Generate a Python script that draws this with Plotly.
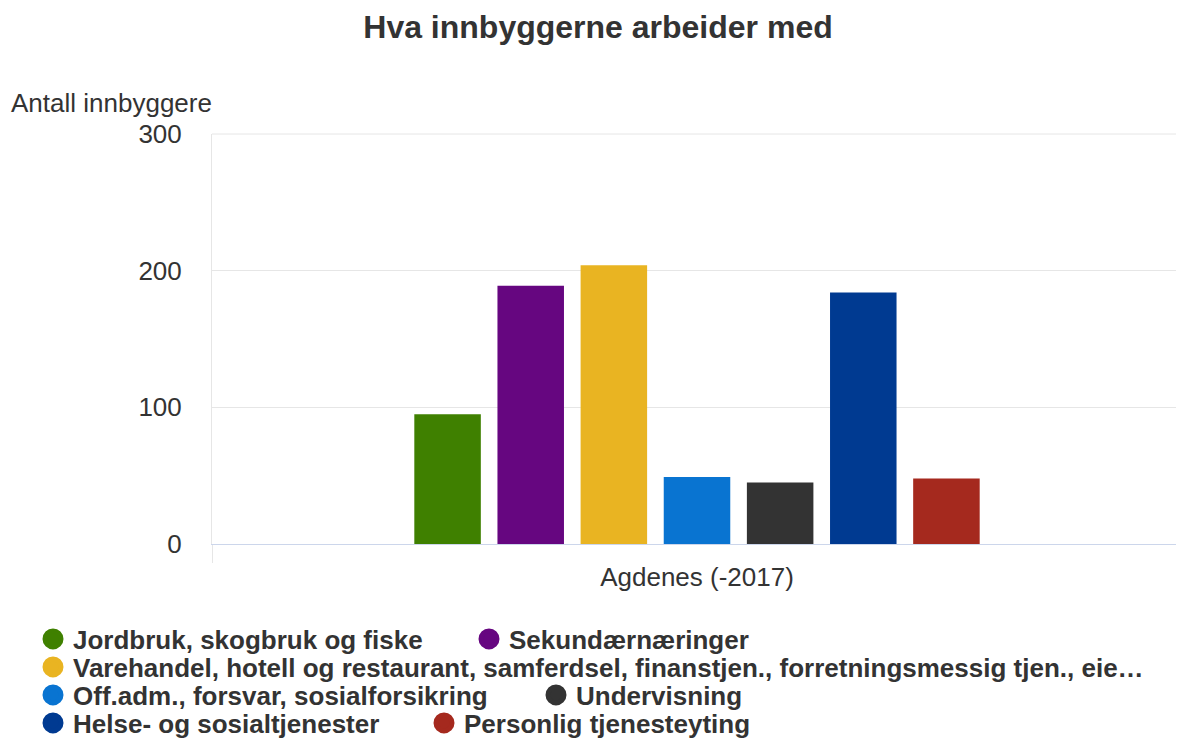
import plotly.graph_objects as go

# ---------------- data ----------------
chart_title = "Hva innbyggerne arbeider med"
y_axis_title = "Antall innbyggere"
categories = ["Agdenes (-2017)"]
series_names = [
    "Jordbruk, skogbruk og fiske",
    "Sekundærnæringer",
    "Varehandel, hotell og restaurant, samferdsel, finanstjen., forretningsmessig tjen., eie…",
    "Off.adm., forsvar, sosialforsikring",
    "Undervisning",
    "Helse- og sosialtjenester",
    "Personlig tjenesteyting",
]
series_values = [95, 189, 204, 49, 45, 184, 48]
y_tick_values = [0, 100, 200, 300]

# ---------------- style ----------------
series_colors = ["#3f8000", "#660680", "#e9b422", "#0974d1", "#333333", "#003a91", "#a5291e"]
legend_rows = ["legend", "legend", "legend2", "legend3", "legend3", "legend4", "legend4"]
legend_widths = [391, None, None, 458, None, 346, None]

FONT = "Liberation Sans, Arial, sans-serif"
TEXT = "#333333"

# the page body adds an 8px offset; compensate so screen positions match
OFF = 8
W, H = 1184 - OFF, 749 - OFF
PLOT_LEFT, PLOT_RIGHT, PLOT_TOP, PLOT_BOTTOM = 212, 1182, 134, 544  # screen px
L = PLOT_LEFT - OFF
R = W - (PLOT_RIGHT - OFF)
T = PLOT_TOP - OFF
B = H - (PLOT_BOTTOM - OFF)
PW, PH = W - L - R, H - T - B


def px_x(sx):
    return (sx - PLOT_LEFT) / PW


def px_y(sy):
    return (PLOT_BOTTOM - sy) / PH


fig = go.Figure()

for name, val, col in zip(series_names, series_values, series_colors):
    fig.add_trace(go.Bar(
        x=categories, y=[val], name=name, legendgroup=name,
        marker=dict(color=col, line=dict(width=0)),
        showlegend=False,
    ))

for name, col, row, lw in zip(series_names, series_colors, legend_rows, legend_widths):
    kw = {}
    if lw is not None:
        kw["legendwidth"] = lw
    fig.add_trace(go.Scatter(
        x=[None], y=[None], mode="markers", name=name, legendgroup=name,
        legend=row,
        marker=dict(symbol="circle", size=16, color=col, line=dict(color=col, width=5)),
        showlegend=True, hoverinfo="skip", **kw,
    ))

row_centers = {"legend": 639, "legend2": 667, "legend3": 695, "legend4": 723}
legend_common = dict(
    orientation="h", xanchor="left", yanchor="middle",
    font=dict(family=FONT, size=26, color=TEXT, weight="bold"),
    bgcolor="rgba(0,0,0,0)", borderwidth=0, itemsizing="trace",
    tracegroupgap=0,
)
legend_layout = {}
for key, cy in row_centers.items():
    legend_layout[key] = dict(x=px_x(33), y=px_y(cy), **legend_common)

fig.update_layout(
    width=W, height=H,
    margin=dict(l=L, r=R, t=T, b=B, autoexpand=False),
    paper_bgcolor="white", plot_bgcolor="white",
    barmode="group", bargap=0.4, bargroupgap=0.2,
    font=dict(family=FONT, color=TEXT),
    title=dict(
        text=chart_title, xref="container", x=(598 - OFF) / W, xanchor="center",
        yref="container", y=1 - (27 - OFF) / H, yanchor="middle",
        font=dict(family=FONT, size=32, color=TEXT, weight="bold"),
    ),
    xaxis=dict(
        type="category", showgrid=False, tickson="boundaries",
        ticks="outside", ticklen=18, tickcolor="#e6e6e6", tickwidth=1,
        ticklabelstandoff=10,
        showline=True, linecolor="#ccd6eb", linewidth=1,
        tickfont=dict(family=FONT, size=26, color=TEXT),
        fixedrange=True,
    ),
    yaxis=dict(
        range=[0, 300], tickvals=y_tick_values, showgrid=True,
        gridcolor="#e6e6e6", gridwidth=1, zeroline=False,
        showline=True, mirror=True, linecolor="#e6e6e6", linewidth=1,
        ticks="", ticklabelstandoff=24,
        tickfont=dict(family=FONT, size=26, color=TEXT),
        fixedrange=True,
    ),
    shapes=[dict(type="line", xref="paper", yref="paper", x0=0, x1=1, y0=1, y1=1,
                 line=dict(color="#e6e6e6", width=1), layer="below")],
    annotations=[dict(
        text=y_axis_title, xref="paper", yref="paper",
        x=px_x(9), y=px_y(103), xanchor="left", yanchor="middle",
        showarrow=False, font=dict(family=FONT, size=26, color=TEXT),
    )],
    showlegend=True,
    **legend_layout,
)

fig.write_html("out.html")
